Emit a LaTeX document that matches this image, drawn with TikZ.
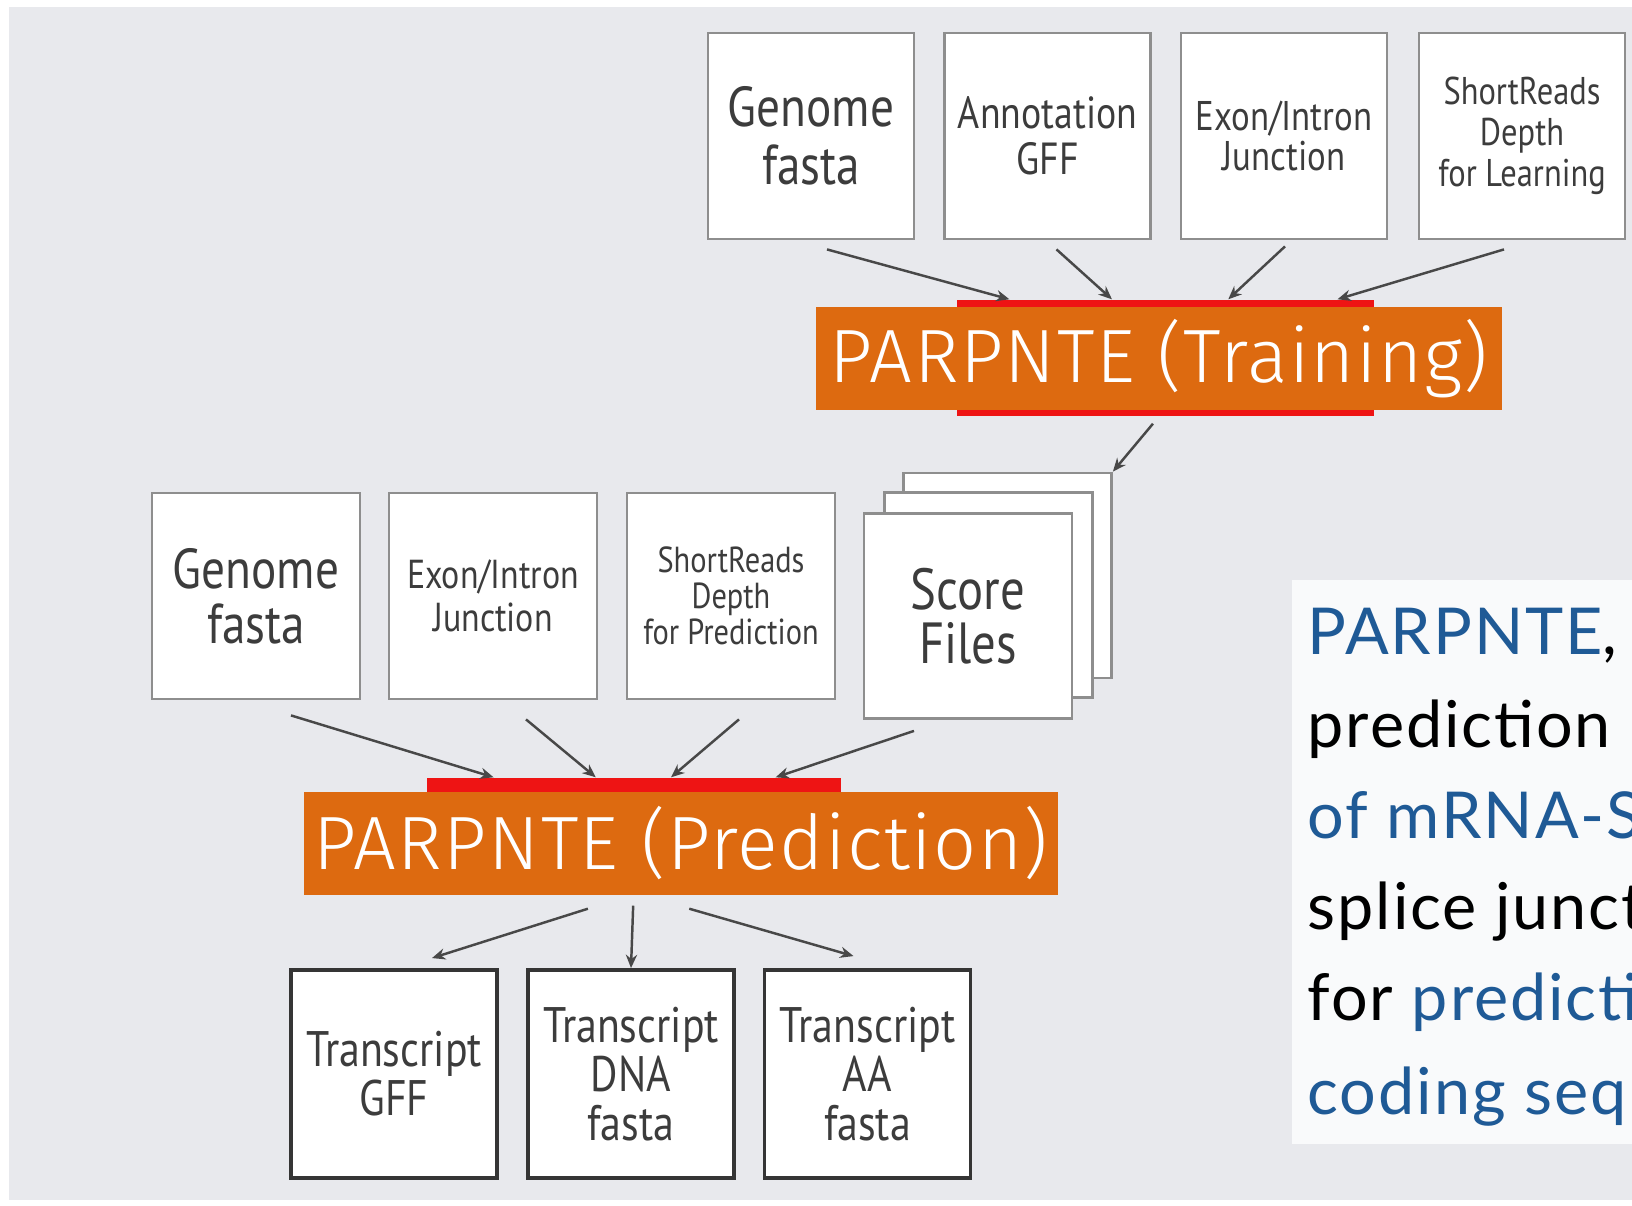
\documentclass[tikz,border=0pt]{standalone}
\usepackage{fontspec}
\setmainfont{Lato}
\newfontfamily\boxfont[FakeStretch=0.84]{PT Sans}
\newfontfamily\runfont[LetterSpace=2]{Fira Sans Light}
\newfontfamily\panelfont[LetterSpace=3]{Lato}
\usetikzlibrary{arrows.meta,calc}
\definecolor{bggray}{HTML}{E8E9ED}
\definecolor{panelw}{HTML}{F9FAFB}
\definecolor{runorange}{HTML}{DD6A10}
\definecolor{runred}{HTML}{EE1414}
\definecolor{linkblue}{HTML}{1F5A96}
\definecolor{boxline}{HTML}{8E8E8E}
\definecolor{outboxline}{HTML}{353535}
\definecolor{boxtext}{HTML}{3C3C3C}
\definecolor{arrowgray}{HTML}{484848}
\newcommand\bxf[2]{\boxfont\fontsize{#1}{#2}\selectfont}
\tikzset{
  inbox/.style={draw=boxline, line width=0.8pt, fill=white, minimum width=20.6mm, minimum height=20.6mm, inner sep=0pt, align=center, text=boxtext},
  outbox/.style={inbox, draw=outboxline, line width=1.1pt},
  runbar/.style={fill=runred, inner sep=0pt},
  runlabel/.style={fill=runorange, text=white, inner sep=0pt, minimum height=10.3mm, font=\runfont\fontsize{21.5}{24}\selectfont},
  arr/.style={draw=arrowgray, line width=0.7pt, -{Stealth[length=3.8pt,width=3.2pt]}},
  paneltext/.style={anchor=base west, inner sep=0pt, font=\panelfont\fontsize{18.4}{20}\selectfont}
}
\begin{document}
\begin{tikzpicture}[x=0.1mm, y=-0.1mm]
\useasboundingbox (0,0) rectangle (1632,1205);
\clip (0,0) rectangle (1632,1205);
\fill[white] (0,0) rectangle (1632,1205);
\fill[bggray] (9,7) rectangle (1632,1200);

% training inputs
\node[inbox, font=\bxf{16}{16.5}] (tg1) at (811,136) {Genome\\fasta};
\node[inbox, font=\bxf{12.8}{13.1}] (tg2) at (1047.5,136) {Annotation\\GFF};
\node[inbox, font=\bxf{11.8}{11.6}] (tg3) at (1284,136) {Exon/Intron\\Junction};
\node[inbox, font=\bxf{11}{11.7}] (tg4) at (1522,136) {ShortReads\\Depth\\for Learning};

\node[runbar, minimum width=41.7mm, minimum height=11.6mm] (trbar) at (1165.5,358) {};
\node[runlabel, minimum width=68.6mm] (trlab) at (1159,358.5) {\raisebox{-2.6pt}{PARPNTE (Training)}};

\coordinate (tin1) at ($(trbar.north west)!0.127!(trbar.north east)$);
\coordinate (tin2) at ($(trbar.north west)!0.372!(trbar.north east)$);
\coordinate (tin3) at ($(trbar.north west)!0.65!(trbar.north east)$);
\coordinate (tin4) at ($(trbar.north west)!0.911!(trbar.north east)$);
\draw[arr] ($(tg1.south)+(16,9)$) -- (tin1);
\draw[arr] ($(tg2.south)+(9,9)$) -- (tin2);
\draw[arr] ($(tg3.south)+(1,6)$) -- (tin3);
\draw[arr] ($(tg4.south)+(-18,9)$) -- (tin4);

% prediction inputs
\node[inbox, minimum width=20.8mm, font=\bxf{16}{15.7}] (bg1) at (256,596) {Genome\\fasta};
\node[inbox, minimum width=20.8mm, font=\bxf{11.5}{12.2}] (bg2) at (493,596) {Exon/Intron\\Junction};
\node[inbox, minimum width=20.8mm, font=\bxf{10.3}{10.2}] (bg3) at (731,596) {ShortReads\\Depth\\for Prediction};
\node[inbox, minimum width=20.8mm, minimum height=20.5mm] (sf3) at (1007.5,575.5) {};
\node[inbox, minimum width=20.8mm, minimum height=20.5mm] (sf2) at (988.5,595) {};
\node[inbox, minimum width=20.8mm, minimum height=20.5mm, font=\bxf{16.5}{15.4}] (sf1) at (968,616) {Score\\Files};

\coordinate (tout) at ($(trbar.south west)!0.47!(trbar.south east)+(0,7)$);
\draw[arr] (tout) -- (sf3.north east);

\node[runbar, minimum width=41.4mm, minimum height=11.5mm] (prbar) at (634,835.5) {};
\node[runlabel, minimum width=75.4mm] (prlab) at (681,843.5) {\raisebox{-2.6pt}{PARPNTE (Prediction)}};

\coordinate (pin1) at ($(prbar.north west)!0.162!(prbar.north east)$);
\coordinate (pin2) at ($(prbar.north west)!0.408!(prbar.north east)$);
\coordinate (pin3) at ($(prbar.north west)!0.589!(prbar.north east)$);
\coordinate (pin4) at ($(prbar.north west)!0.841!(prbar.north east)$);
\draw[arr] ($(bg1.south)+(35,15)$) -- (pin1);
\draw[arr] ($(bg2.south)+(33,19)$) -- (pin2);
\draw[arr] ($(bg3.south)+(8,19)$) -- (pin3);
\draw[arr] ($(sf1.south)+(-54,11)$) -- (pin4);

% outputs
\node[outbox, minimum height=20.8mm, font=\bxf{14.2}{14}] (og1) at (394,1074) {Transcript\\GFF};
\node[outbox, minimum height=20.8mm, font=\bxf{14.2}{14}] (og2) at (631,1074) {Transcript\\DNA\\fasta};
\node[outbox, minimum height=20.8mm, font=\bxf{14.2}{14}] (og3) at (867.5,1074) {Transcript\\AA\\fasta};

\coordinate (pout1) at ($(prbar.south west)!0.389!(prbar.south east)+(0,15)$);
\coordinate (pout2) at ($(prbar.south west)!0.498!(prbar.south east)+(0,12)$);
\coordinate (pout3) at ($(prbar.south west)!0.633!(prbar.south east)+(0,15)$);
\draw[arr] (pout1) -- ($(og1.north)+(38,-10)$);
\draw[arr] (pout2) -- (og2.north);
\draw[arr] (pout3) -- ($(og3.north)+(-14,-12)$);

% side text
\fill[panelw] (1292,580) rectangle (1640,1144);
\node[paneltext, text=linkblue] (pl1) at (1307,654) {PARPNTE\textcolor{black}{,}};
\node[paneltext] (pl2) at (1307,747) {prediction};
\node[paneltext, text=linkblue] (pl3) at (1307,838) {of mRNA-Seq};
\node[paneltext] (pl4) at (1307,929) {splice junction};
\node[paneltext] (pl5) at (1307,1020) {for \textcolor{linkblue}{prediction}};
\node[paneltext, text=linkblue] (pl6) at (1307,1114) {coding seq};
\end{tikzpicture}
\end{document}
